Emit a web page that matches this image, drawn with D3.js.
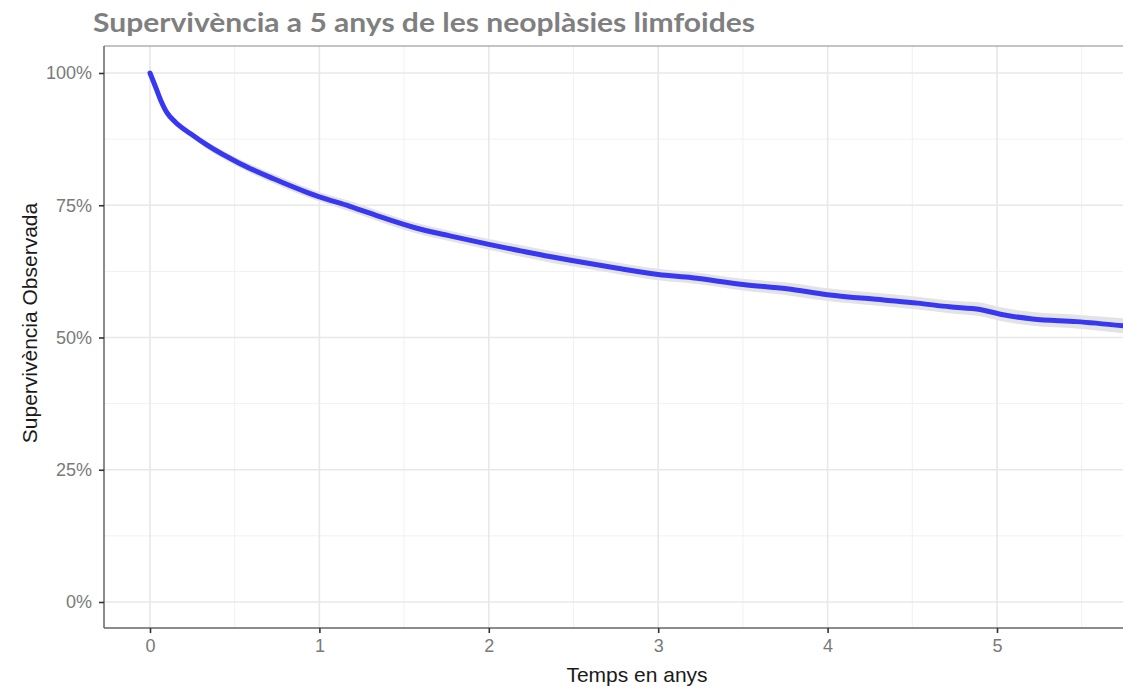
<!DOCTYPE html>
<html>
<head>
<meta charset="utf-8">
<script src="https://cdn.jsdelivr.net/npm/d3@7"></script>
<style>
    body { margin: 0; background: #fff; }
    .title { font-family: Lato, "Open Sans", sans-serif; font-weight: bold; fill: #7f7f7f; }
    .tick text { font-family: "Liberation Sans", Arial, sans-serif; font-size: 18px; fill: #7a7a7a; }
    .label { font-family: "Liberation Sans", Arial, sans-serif; font-size: 21px; fill: #1a1a1a; }
</style>
</head>
<body>
<div id="chart"></div>
<script>
let canvasWidth = 1123;
let canvasHeight = 690;

// panel edges
let panelLeft = 104;
let panelTop = 46;
let panelBottom = 628;

// data (time in years, survival in %)
let years = [0, 0.03, 0.06, 0.1, 0.15, 0.24, 0.34, 0.53, 0.73, 0.93, 1.0, 1.18, 1.38, 1.57, 1.77, 2.0, 2.17, 2.36, 2.5, 2.76, 3.0, 3.2, 3.5, 3.76, 4.0, 4.33, 4.53, 4.72, 4.9, 5.02, 5.21, 5.47, 5.75];
let survival = [100, 97.6, 95.1, 92.5, 90.7, 88.5, 86.3, 82.9, 80.0, 77.4, 76.6, 74.8, 72.6, 70.7, 69.2, 67.6, 66.5, 65.3, 64.5, 63.1, 61.9, 61.3, 60.0, 59.2, 58.1, 57.1, 56.5, 55.8, 55.3, 54.4, 53.5, 53.0, 52.2];
let lower = [100, 97.4, 94.8, 92.1, 90.2, 87.9, 85.6, 82.1, 79.1, 76.5, 75.7, 73.8, 71.6, 69.7, 68.2, 66.6, 65.4, 64.2, 63.4, 62.0, 60.8, 60.2, 58.9, 58.0, 56.9, 55.9, 55.3, 54.6, 54.0, 53.1, 52.2, 51.7, 50.8];
let upper = [100, 97.8, 95.4, 92.9, 91.2, 89.1, 87.0, 83.7, 80.9, 78.3, 77.5, 75.8, 73.6, 71.7, 70.2, 68.6, 67.6, 66.4, 65.6, 64.2, 63.0, 62.4, 61.1, 60.4, 59.3, 58.3, 57.7, 57.0, 56.6, 55.7, 54.8, 54.3, 53.6];

let xTicks = [0, 1, 2, 3, 4, 5];
let xMinor = [0.5, 1.5, 2.5, 3.5, 4.5, 5.5];
let yTicks = [0, 0.25, 0.5, 0.75, 1];
let yMinor = [0.125, 0.375, 0.625, 0.875];

let titleText = "Supervivència a 5 anys de les neoplàsies limfoides";

let svg = d3.select("div#chart")
    .append("svg")
    .attr("width", canvasWidth)
    .attr("height", canvasHeight);

let xScale = d3.scaleLinear().domain([0, 5]).range([150, 997]);
let yScale = d3.scaleLinear().domain([0, 1]).range([602, 73]);

let rows = years.map((t, i) => ({ t: t, s: survival[i] / 100, lo: lower[i] / 100, hi: upper[i] / 100 }));

// grid
let grid = svg.append("g");
grid.selectAll("line.vminor").data(xMinor).enter().append("line")
    .attr("x1", d => xScale(d)).attr("x2", d => xScale(d))
    .attr("y1", panelTop).attr("y2", panelBottom)
    .attr("stroke", "#f1f1f1").attr("stroke-width", 1);
grid.selectAll("line.hminor").data(yMinor).enter().append("line")
    .attr("x1", panelLeft).attr("x2", canvasWidth)
    .attr("y1", d => yScale(d)).attr("y2", d => yScale(d))
    .attr("stroke", "#f1f1f1").attr("stroke-width", 1);
grid.selectAll("line.vmajor").data(xTicks).enter().append("line")
    .attr("x1", d => xScale(d)).attr("x2", d => xScale(d))
    .attr("y1", panelTop).attr("y2", panelBottom)
    .attr("stroke", "#e8e8e8").attr("stroke-width", 1.6);
grid.selectAll("line.hmajor").data(yTicks).enter().append("line")
    .attr("x1", panelLeft).attr("x2", canvasWidth)
    .attr("y1", d => yScale(d)).attr("y2", d => yScale(d))
    .attr("stroke", "#e8e8e8").attr("stroke-width", 1.6);

// confidence band
svg.append("path")
    .datum(rows)
    .attr("fill", "#e3e3e3")
    .attr("d", d3.area()
        .curve(d3.curveMonotoneX)
        .x(d => xScale(d.t))
        .y0(d => yScale(d.lo))
        .y1(d => yScale(d.hi)));

// survival line
svg.append("path")
    .datum(rows)
    .attr("fill", "none")
    .attr("stroke", "#3838f2")
    .attr("stroke-width", 5)
    .attr("stroke-linecap", "round")
    .attr("d", d3.line()
        .curve(d3.curveMonotoneX)
        .x(d => xScale(d.t))
        .y(d => yScale(d.s)));

// panel border
svg.append("line")
    .attr("x1", panelLeft).attr("x2", canvasWidth)
    .attr("y1", panelTop).attr("y2", panelTop)
    .attr("stroke", "#8a8a8a").attr("stroke-width", 1.2);
svg.append("line")
    .attr("x1", panelLeft).attr("x2", panelLeft)
    .attr("y1", panelTop).attr("y2", panelBottom)
    .attr("stroke", "#666").attr("stroke-width", 1.5);
svg.append("line")
    .attr("x1", panelLeft).attr("x2", canvasWidth)
    .attr("y1", panelBottom).attr("y2", panelBottom)
    .attr("stroke", "#666").attr("stroke-width", 1.5);

// y axis
let yAxis = svg.append("g")
    .attr("transform", "translate(" + panelLeft + ",0)")
    .call(d3.axisLeft(yScale).tickValues(yTicks).tickFormat(d3.format(".0%"))
        .tickSize(5).tickSizeOuter(0).tickPadding(7));
yAxis.select(".domain").remove();
yAxis.selectAll(".tick line").attr("stroke", "#333").attr("stroke-width", 1.6);
yAxis.selectAll(".tick text").attr("font-size", null).attr("font-family", null);

// x axis
let xAxis = svg.append("g")
    .attr("transform", "translate(0," + panelBottom + ")")
    .call(d3.axisBottom(xScale).tickValues(xTicks).tickFormat(d3.format("d"))
        .tickSize(5).tickSizeOuter(0).tickPadding(6));
xAxis.select(".domain").remove();
xAxis.selectAll(".tick line").attr("stroke", "#333").attr("stroke-width", 1.6);
xAxis.selectAll(".tick text").attr("font-size", null).attr("font-family", null);

// axis titles
svg.append("text")
    .attr("class", "label")
    .attr("text-anchor", "middle")
    .attr("transform", "translate(637, 682)")
    .text("Temps en anys");

svg.append("text")
    .attr("class", "label")
    .attr("text-anchor", "middle")
    .attr("transform", "translate(37, 323) rotate(270)")
    .text("Supervivència Observada");

// title
svg.append("text")
    .attr("class", "title")
    .attr("x", 93)
    .attr("y", 32)
    .attr("font-size", 27)
    .attr("textLength", 662)
    .attr("lengthAdjust", "spacingAndGlyphs")
    .text(titleText);
</script>
</body>
</html>
